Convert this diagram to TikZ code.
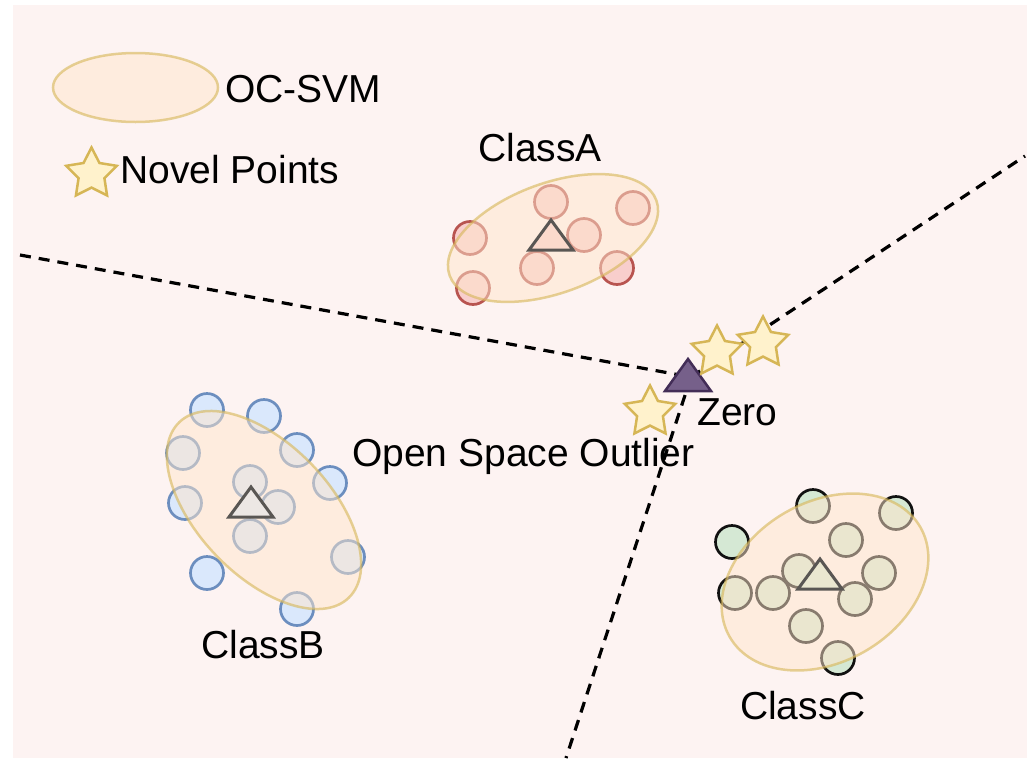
\documentclass[tikz,border=0pt]{standalone}
\usepackage{fontspec}
\setmainfont{Liberation Sans}
\usetikzlibrary{shapes.geometric}
\definecolor{bgpink}{HTML}{FDF3F2}
\definecolor{ocfill}{HTML}{FFE6CC}
\definecolor{ocdraw}{HTML}{D6B656}
\definecolor{afill}{HTML}{F8CECC}
\definecolor{adraw}{HTML}{B85450}
\definecolor{bfill}{HTML}{DAE8FC}
\definecolor{bdraw}{HTML}{6C8EBF}
\definecolor{cfill}{HTML}{D5E8D4}
\definecolor{cdraw}{HTML}{111111}
\definecolor{zfill}{HTML}{76608A}
\definecolor{zdraw}{HTML}{432D57}
\definecolor{sfill}{HTML}{FFF2CC}
\definecolor{protodraw}{HTML}{595653}
\tikzset{
  lbl/.style={font=\fontsize{39}{45}\selectfont, inner sep=0pt, text=black},
  ocsvm/.style={ellipse, inner sep=0pt, fill=ocfill, fill opacity=0.5, draw=ocdraw, draw opacity=0.6, line width=2.5pt},
  pt/.style={circle, minimum size=33pt, inner sep=0pt, line width=2.7pt},
  ptA/.style={pt, fill=afill, draw=adraw},
  ptB/.style={pt, fill=bfill, draw=bdraw},
  ptC/.style={pt, fill=cfill, draw=cdraw},
  proto/.style={draw=protodraw, line width=3pt, line join=miter},
  zerotri/.style={draw=zdraw, fill=zfill, line width=2.5pt},
  novel/.style={star, star points=5, star point ratio=1.95, minimum size=53pt, inner sep=0pt, fill=sfill, draw=ocdraw, line width=2.5pt},
  sep/.style={draw=black, line width=3.2pt, dash pattern=on 11pt off 8pt},
}
\begin{document}
\begin{tikzpicture}[x=1pt,y=-1pt]
\useasboundingbox (0,0) rectangle (1033,758);
\fill[white] (0,0) rectangle (1033,758);
\fill[bgpink] (13,5) rectangle (1027,758);

% legend
\node[ocsvm, minimum width=165pt, minimum height=69pt] (legell) at (135.5,87.5) {};
\node[lbl, anchor=base west] (legtxt) at (225,102) {OC-SVM};
\node[novel] (legstar) at (91.5,174) {};
\node[lbl, anchor=base west] (legnovel) at (120,183) {Novel Points};

% separating lines
\coordinate (zc) at (691,377);
\coordinate (lend) at (20,255);
\coordinate (rend) at (1025,156);
\coordinate (bend) at (566,758);
\draw[sep] (lend) -- (zc);
\draw[sep] (zc) -- (rend);
\draw[sep] (zc) -- (bend);

% Class A
\node[ptA] (a1) at (551,202) {};
\node[ptA] (a2) at (633,208) {};
\node[ptA] (a3) at (470,238) {};
\node[ptA] (a4) at (584,235) {};
\node[ptA] (a5) at (537,268) {};
\node[ptA] (a6) at (617,268) {};
\node[ptA] (a7) at (473,288) {};
\node[ocsvm, minimum width=220pt, minimum height=110pt, rotate=20] (ellA) at (553,238) {};
\coordinate (tA) at (551,235);
\draw[proto, fill=afill!50!ocfill] ([shift={(0,-15)}]tA) -- ([shift={(-22,15)}]tA) -- ([shift={(22,15)}]tA) -- cycle;
\node[lbl, anchor=base] (labA) at (540,161) {ClassA};

% Class B
\node[ptB] (b1) at (207,410) {};
\node[ptB] (b2) at (264,416) {};
\node[ptB] (b3) at (183,453) {};
\node[ptB] (b4) at (297,450) {};
\node[ptB] (b5) at (330,483) {};
\node[ptB] (b6) at (250,482) {};
\node[ptB] (b7) at (185,503) {};
\node[ptB] (b8) at (278,507) {};
\node[ptB] (b9) at (250,536) {};
\node[ptB] (b10) at (348,557) {};
\node[ptB] (b11) at (207,573) {};
\node[ptB] (b12) at (297,609) {};
\node[ocsvm, minimum width=244pt, minimum height=132pt, rotate=-46] (ellB) at (264,510) {};
\coordinate (tB) at (251,502);
\draw[proto, fill=bfill!50!ocfill] ([shift={(0,-15)}]tB) -- ([shift={(-22,15)}]tB) -- ([shift={(22,15)}]tB) -- cycle;
\node[lbl, anchor=base] (labB) at (263,658) {ClassB};

% Class C
\node[ptC] (c1) at (813,506) {};
\node[ptC] (c2) at (896,513) {};
\node[ptC] (c3) at (732,542) {};
\node[ptC] (c4) at (846,540) {};
\node[ptC] (c5) at (799,571) {};
\node[ptC] (c6) at (879,573) {};
\node[ptC] (c7) at (735,593) {};
\node[ptC] (c8) at (773,593) {};
\node[ptC] (c9) at (855,599) {};
\node[ptC] (c10) at (806,626) {};
\node[ptC] (c11) at (838,658) {};
\node[ocsvm, minimum width=220pt, minimum height=160pt, rotate=30] (ellC) at (825,582) {};
\coordinate (tC) at (820,574);
\draw[proto, fill=cfill!50!ocfill] ([shift={(0,-15)}]tC) -- ([shift={(-22,15)}]tC) -- ([shift={(22,15)}]tC) -- cycle;
\node[lbl, anchor=base] (labC) at (803,719) {ClassC};

% Zero and novel points
\coordinate (tZ) at (688,375);
\draw[zerotri] ([shift={(0,-16)}]tZ) -- ([shift={(-23,16)}]tZ) -- ([shift={(23,16)}]tZ) -- cycle;
\node[novel] (s1) at (717,352) {};
\node[novel] (s2) at (763,343) {};
\node[novel] (s3) at (650,412) {};
\node[lbl, anchor=base west] (zero) at (697,425) {Zero};
\node[lbl, anchor=base west] (osl) at (352,466) {Open Space Outlier};
\end{tikzpicture}
\end{document}
